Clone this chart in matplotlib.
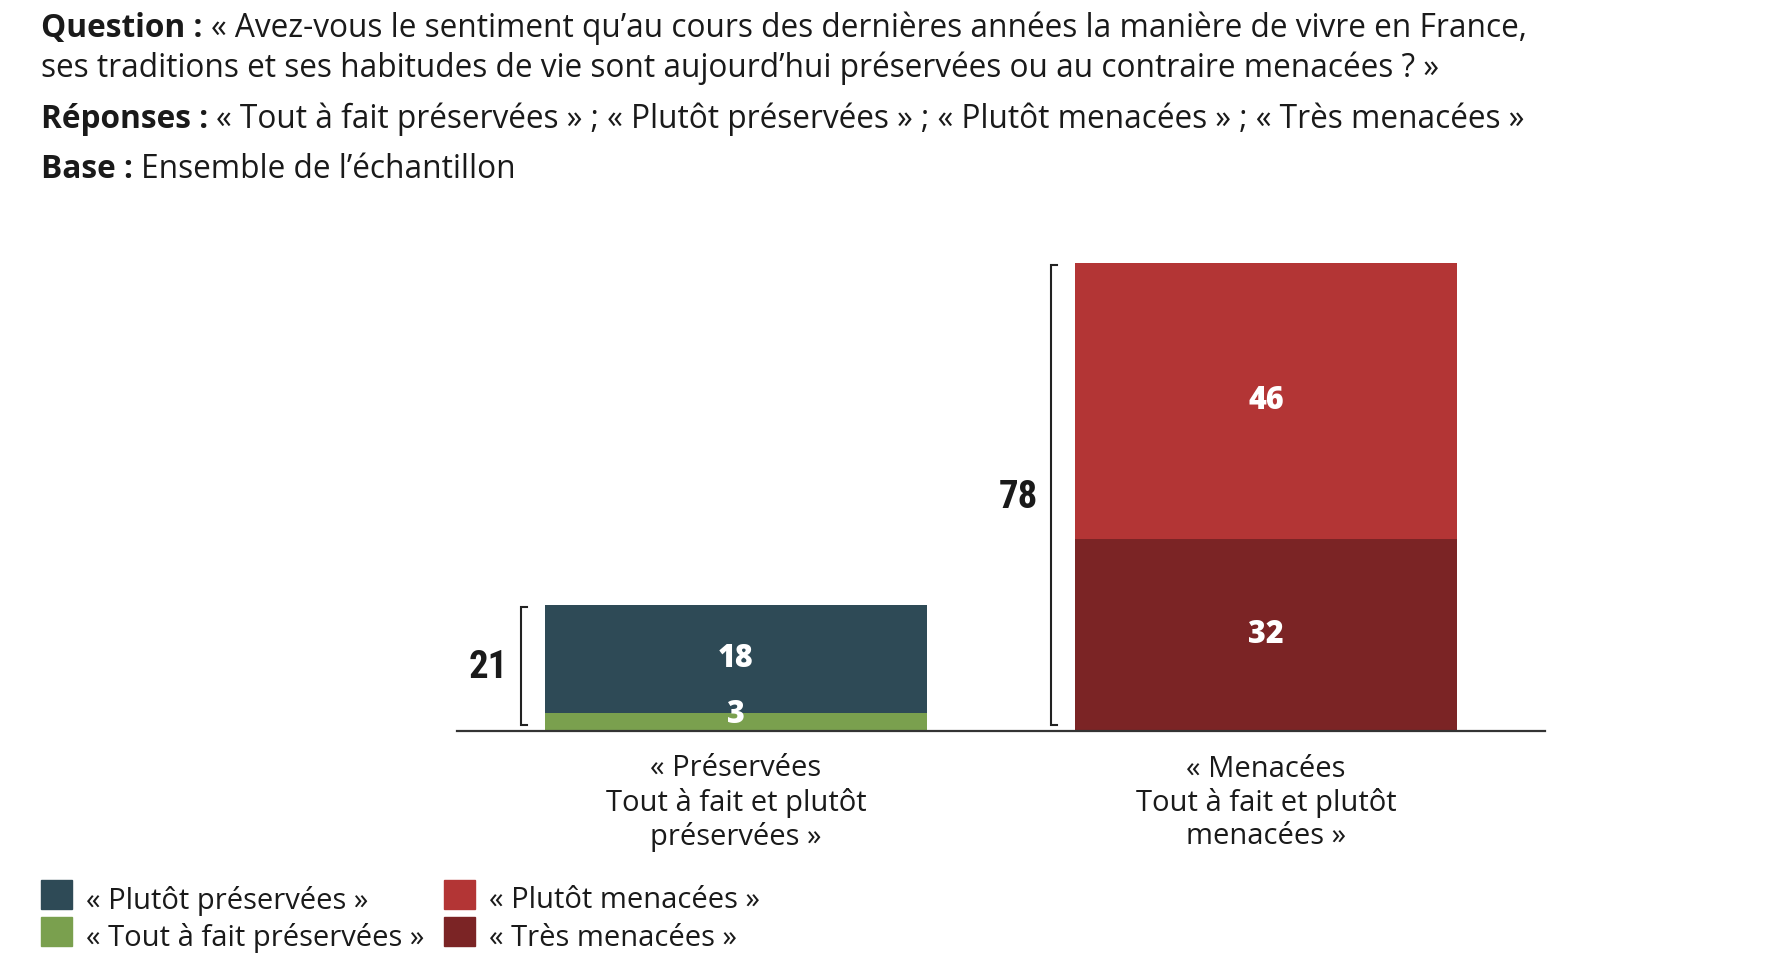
import matplotlib
matplotlib.use("Agg")
import matplotlib.pyplot as plt
from matplotlib.patches import Rectangle
from matplotlib import font_manager as fm

# ---------------- data ----------------
categories = ["« Préservées\nTout à fait et plutôt\npréservées »",
              "« Menacées\nTout à fait et plutôt\nmenacées »"]
bottom_values = [3, 32]      # Tout à fait préservées / Très menacées
top_values = [18, 46]        # Plutôt préservées / Plutôt menacées
totals = [21, 78]
bottom_colors = ["#7AA04E", "#7B2425"]
top_colors = ["#2E4A56", "#B33535"]
legend_labels = ["« Plutôt préservées »", "« Tout à fait préservées »",
                 "« Plutôt menacées »", "« Très menacées »"]
legend_colors = ["#2E4A56", "#7AA04E", "#B33535", "#7B2425"]

header_lines = [
    ("Question : ", "« Avez-vous le sentiment qu’au cours des dernières années la manière de vivre en France,"),
    ("", "ses traditions et ses habitudes de vie sont aujourd’hui préservées ou au contraire menacées ? »"),
    ("Réponses : ", "« Tout à fait préservées » ; « Plutôt préservées » ; « Plutôt menacées » ; « Très menacées »"),
    ("Base : ", "Ensemble de l’échantillon"),
]
header_y = [28, 68, 119, 170]

FONT = ["Open Sans", "DejaVu Sans"]
plt.rcParams['font.family'] = FONT

# find a condensed bold font for the totals
def find_condensed():
    cands = []
    for f in fm.fontManager.ttflist:
        n = f.name.lower()
        fn = f.fname.lower()
        if ("condensed" in n or "narrow" in n or "condensed" in fn or "narrow" in fn
                or f.stretch in ("condensed", "semi-condensed", "extra-condensed")):
            w = f.weight if isinstance(f.weight, int) else (700 if "bold" in str(f.weight).lower() else 400)
            if "bold" in fn:
                w = max(w, 700)
            if w >= 600 and "italic" not in fn and "oblique" not in fn:
                cands.append(f)
    pref = ["roboto", "liberation", "dejavu", "noto", "open"]
    for p in pref:
        for f in cands:
            if p in f.fname.lower():
                return fm.FontProperties(fname=f.fname)
    if cands:
        return fm.FontProperties(fname=cands[0].fname)
    return fm.FontProperties(family="DejaVu Sans", weight="bold")

NUMPROP = find_condensed()

W, H = 1768, 966
fig = plt.figure(figsize=(W / 100, H / 100), dpi=100)

# axes: x 457..1545 px, y=0 at 731 px, 6 px per unit, ylim 0..80
ax_left, ax_right = 457, 1545
y0_px = 731
ppu = 6.0
ytop = 80
ax = fig.add_axes([ax_left / W, (H - y0_px) / H, (ax_right - ax_left) / W, ytop * ppu / H])
ax.set_xlim(-0.526, 1.526)
ax.set_ylim(0, ytop)
for s in ["top", "right", "left"]:
    ax.spines[s].set_visible(False)
ax.spines["bottom"].set_color("#333333")
ax.spines["bottom"].set_linewidth(1.6)
ax.set_xticks([])
ax.set_yticks([])
ax.set_zorder(1)

xs = [0, 1]
bw = 0.72
ax.bar(xs, bottom_values, width=bw, color=bottom_colors, zorder=2)
ax.bar(xs, top_values, width=bw, bottom=bottom_values, color=top_colors, zorder=2)

for i in xs:
    b = bottom_values[i]
    t = top_values[i]
    yb = b / 2 if b > 8 else b - 0.3
    ax.text(i, yb, str(b), ha="center", va="center", color="white",
            fontsize=22, fontweight="heavy", family=FONT, zorder=3)
    ax.text(i, b + t / 2, str(t), ha="center", va="center", color="white",
            fontsize=22, fontweight="heavy", family=FONT, zorder=3)
    # bracket
    bx = i - bw / 2 - 0.045
    y_lo, y_hi = 1.0, totals[i] - 0.4
    ax.plot([bx + 0.011, bx, bx, bx + 0.011], [y_hi, y_hi, y_lo, y_lo],
            color="#222222", lw=1.5, solid_joinstyle="miter", clip_on=False)
    tp = NUMPROP.copy()
    tp.set_size(28)
    ax.text(bx - 0.062, totals[i] / 2, str(totals[i]), ha="center", va="center",
            fontproperties=tp, color="#1a1a1a")
    # category label
    ax.text(i, -12.0, categories[i], ha="center", va="center", fontsize=21,
            color="#1a1a1a", linespacing=1.18, family=FONT, clip_on=False)

# ---------------- header ----------------
fig.canvas.draw()
renderer = fig.canvas.get_renderer()
hx = 41
for (bold, rest), yp in zip(header_lines, header_y):
    x = hx
    fy = 1 - yp / H
    if bold:
        tb = fig.text(x / W, fy, bold, fontsize=22.8, fontweight="bold", va="center",
                      ha="left", color="#1a1a1a", family=FONT)
        bb = tb.get_window_extent(renderer)
        x = x + bb.width
    fig.text(x / W, fy, rest, fontsize=22.8, va="center", ha="left",
             color="#1a1a1a", family=FONT)

# ---------------- legend ----------------
leg_pos = [(41, 893), (41, 930), (444, 893), (444, 930)]
sq = 31
for (lx, ly), lab, col in zip(leg_pos, legend_labels, legend_colors):
    fig.patches.append(Rectangle((lx / W, 1 - (ly + sq / 2) / H), sq / W, (sq - 2) / H,
                                 transform=fig.transFigure, color=col))
    fig.text((lx + 45) / W, 1 - (ly + 8) / H, lab, fontsize=21, va="center", ha="left",
             color="#1a1a1a", family=FONT)

fig.savefig("out.png", dpi=100, facecolor="white")
